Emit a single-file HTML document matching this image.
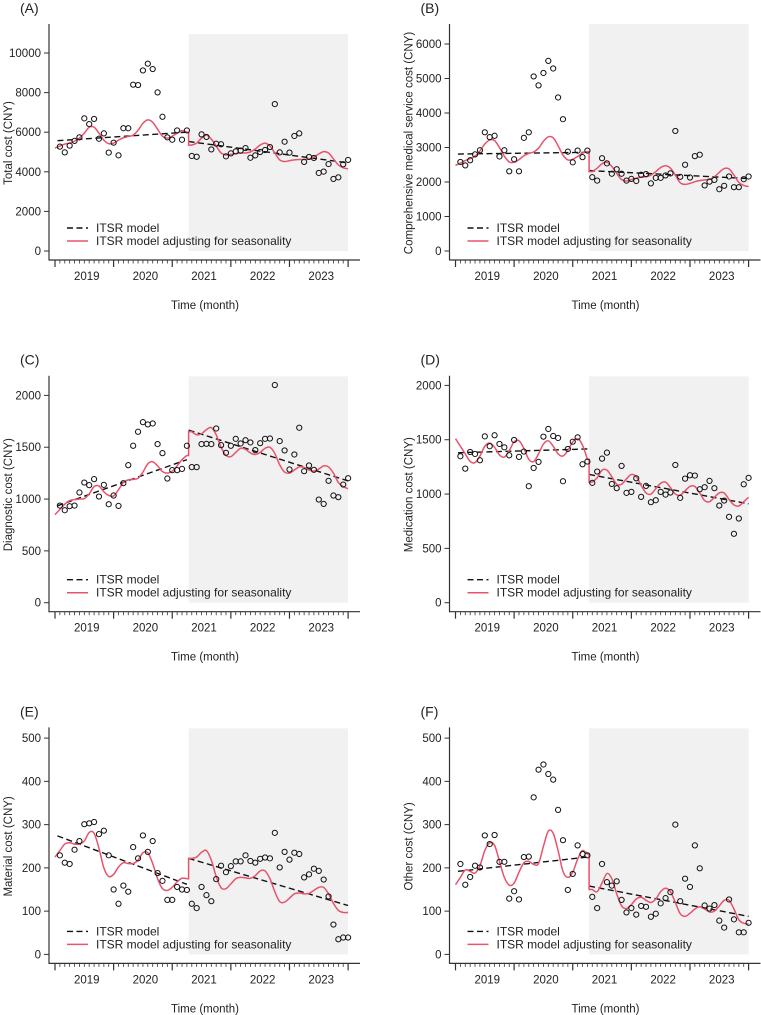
<!DOCTYPE html>
<html><head><meta charset="utf-8"><style>
html,body{margin:0;padding:0;background:#fff;}
svg{display:block;font-family:"Liberation Sans",Arial,sans-serif;}
</style></head><body>
<svg id="chart" width="761" height="1015" viewBox="0 0 761 1015" xmlns="http://www.w3.org/2000/svg"></svg>
<script>
const panelLabels = ["(A)","(B)","(C)","(D)","(E)","(F)"];
const yTitles = ["Total cost (CNY)","Comprehensive medical service cost (CNY)","Diagnostic cost (CNY)","Medication cost (CNY)","Material cost (CNY)","Other cost (CNY)"];
const yTicksA = [0,2000,4000,6000,8000,10000];
const yTicksB = [0,1000,2000,3000,4000,5000,6000];
const yTicksC = [0,500,1000,1500,2000];
const yTicksD = [0,500,1000,1500,2000];
const yTicksE = [0,100,200,300,400,500];
const yTicksF = [0,100,200,300,400,500];
const yearLabels = ["2019","2020","2021","2022","2023"];
const interventionMonth = 27.35;

const obsA = [5270,4980,5320,5560,5740,6700,6410,6670,5670,5940,4970,5470,4830,6200,6200,8400,8380,9120,9460,9190,8010,6780,5740,5620,6090,5620,6090,4800,4760,5890,5760,5130,5420,5390,4780,4930,5030,5070,5200,4710,4830,5000,5100,5250,7420,4980,5520,4970,5810,5940,4500,4750,4700,3940,4010,4390,3640,3720,4380,4600];
const seasA = [5300,5400,5450,5550,5700,5950,6250,6250,5950,5600,5420,5450,5600,5720,5780,5850,6100,6450,6620,6500,6150,5800,5700,5800,5950,6080,6000,5350,5450,5700,5850,5650,5300,4950,4850,4880,4920,4950,4950,5000,5150,5350,5450,5300,4950,4600,4520,4560,4600,4620,4620,4650,4750,4900,5020,4950,4650,4350,4200,4150];
const trendA = [5570,6000,5530,4450];

const obsB = [2580,2480,2630,2800,2920,3440,3300,3340,2740,2920,2310,2660,2310,3280,3440,5060,4800,5160,5510,5290,4450,3820,2880,2570,2910,2720,2910,2140,2040,2690,2540,2240,2370,2240,2040,2090,2030,2210,2230,1960,2120,2120,2190,2250,3480,2150,2500,2130,2750,2790,1900,2010,2060,1790,1890,2160,1850,1850,2080,2160];
const seasB = [2550,2620,2680,2750,2900,3100,3220,3200,3000,2750,2580,2570,2650,2760,2830,2870,2980,3180,3310,3280,3050,2780,2640,2660,2740,2840,2880,2300,2400,2530,2570,2450,2250,2070,2030,2070,2110,2140,2150,2200,2300,2420,2470,2400,2200,1980,1930,1960,2010,2040,2060,2080,2150,2280,2390,2380,2200,1990,1900,1870];
const trendB = [2810,2860,2330,2100];

const obsC = [937,892,931,937,1063,1159,1134,1192,1024,1137,950,1034,934,1153,1327,1514,1649,1742,1720,1729,1530,1443,1198,1279,1279,1291,1514,1308,1308,1530,1533,1530,1681,1520,1446,1514,1581,1536,1568,1546,1472,1539,1581,1584,2100,1559,1469,1285,1430,1688,1269,1324,1282,995,953,1176,1034,1018,1140,1201];
const seasC = [900,950,985,995,1000,1005,1050,1120,1125,1070,1035,1030,1090,1160,1185,1190,1200,1260,1340,1360,1320,1265,1250,1270,1320,1380,1420,1650,1620,1630,1670,1690,1620,1500,1420,1410,1450,1490,1480,1445,1430,1450,1490,1500,1440,1330,1260,1250,1280,1310,1305,1280,1270,1290,1320,1310,1250,1160,1120,1100];
const trendC = [935,1380,1665,1175];

const obsD = [1348,1234,1387,1369,1311,1531,1440,1541,1461,1430,1357,1498,1342,1391,1072,1240,1296,1528,1599,1534,1516,1118,1415,1482,1522,1274,1299,1103,1207,1326,1381,1093,1054,1259,1011,1020,1145,974,1075,925,943,1020,995,1014,1268,965,1142,1173,1170,1044,1063,1121,1054,894,940,790,634,775,1090,1149];
const seasD = [1440,1370,1300,1290,1350,1440,1470,1430,1360,1340,1400,1480,1490,1420,1320,1300,1370,1460,1490,1440,1370,1350,1400,1480,1510,1450,1320,1110,1150,1220,1220,1160,1090,1090,1140,1180,1160,1080,1010,1000,1050,1100,1110,1060,1000,990,1030,1070,1070,1010,940,930,970,1010,1010,950,900,890,930,970];
const trendD = [1380,1415,1180,910];

const obsE = [229,212,209,242,262,301,303,306,278,286,229,150,117,159,145,248,222,275,237,262,188,170,126,126,156,150,149,117,107,156,137,123,174,205,190,204,215,215,229,216,212,221,224,222,281,201,237,219,235,232,178,185,198,193,173,134,69,35,39,39];
const seasE = [240,255,258,255,255,262,282,280,245,200,180,185,202,212,210,210,218,235,235,210,175,152,148,155,168,176,175,222,225,236,240,218,180,154,152,163,175,178,177,176,182,193,193,175,145,122,121,130,140,142,140,141,148,155,155,140,118,102,97,97];
const trendE = [274,162,222,113];

const obsF = [209,161,179,205,201,275,255,276,214,214,129,146,127,225,226,363,427,439,417,404,334,264,149,186,252,232,229,133,107,209,167,159,169,126,97,107,92,112,110,87,94,118,130,144,300,123,175,156,252,199,113,106,114,78,62,127,81,51,51,73];
const seasF = [178,195,192,188,205,240,258,252,215,178,160,165,190,212,215,208,210,250,285,280,240,192,178,190,220,240,232,150,145,165,187,175,140,112,106,115,128,132,125,120,128,145,153,145,120,94,88,95,105,110,105,98,100,112,125,125,105,80,72,70];
const trendF = [192,225,158,88];

const panels = [
  {obs:obsA,seas:seasA,trend:trendA,ticks:yTicksA,top:10000,topY:53,shadeTop:34,col:0,row:0,key:"a"},
  {obs:obsB,seas:seasB,trend:trendB,ticks:yTicksB,top:6000,topY:44,shadeTop:24,col:1,row:0,key:"b"},
  {obs:obsC,seas:seasC,trend:trendC,ticks:yTicksC,top:2000,topY:43.7,shadeTop:24.7,col:0,row:1,key:"c"},
  {obs:obsD,seas:seasD,trend:trendD,ticks:yTicksD,top:2000,topY:33.7,shadeTop:24.7,col:1,row:1,key:"d"},
  {obs:obsE,seas:seasE,trend:trendE,ticks:yTicksE,top:500,topY:34.7,shadeTop:25,col:0,row:2,key:"e"},
  {obs:obsF,seas:seasF,trend:trendF,ticks:yTicksF,top:500,topY:34.7,shadeTop:25,col:1,row:2,key:"f"}
];

const NS="http://www.w3.org/2000/svg";
const svg=document.getElementById('chart');
function mk(tag,attrs,parent){const e=document.createElementNS(NS,tag);for(const k in attrs)e.setAttribute(k,attrs[k]);(parent||svg).appendChild(e);return e;}
function spline(pts){let d="M"+pts[0][0].toFixed(2)+","+pts[0][1].toFixed(2);for(let i=0;i<pts.length-1;i++){const p0=pts[Math.max(0,i-1)],p1=pts[i],p2=pts[i+1],p3=pts[Math.min(pts.length-1,i+2)];const c1x=p1[0]+(p2[0]-p0[0])/6,c1y=p1[1]+(p2[1]-p0[1])/6,c2x=p2[0]-(p3[0]-p1[0])/6,c2y=p2[1]-(p3[1]-p1[1])/6;d+=" C"+c1x.toFixed(2)+","+c1y.toFixed(2)+" "+c2x.toFixed(2)+","+c2y.toFixed(2)+" "+p2[0].toFixed(2)+","+p2[1].toFixed(2);}return d;}

panels.forEach((p,pi)=>{
  const ox=p.col*400.5, oy=p.row*351.7;
  const g=mk('g',{});
  
  
  const X=i=>ox+55+i*4.885;
  const Y=v=>oy+251-v*(251-p.topY)/p.top;
  const sh=mk('rect',{x:X(interventionMonth),y:oy+p.shadeTop,width:X(60)-X(interventionMonth),height:oy+251-(oy+p.shadeTop),fill:'#f1f1f1'},g);
  
  
  // axes
  const ya=mk('line',{x1:ox+49,y1:oy+24,x2:ox+49,y2:oy+260.5,stroke:'#333','stroke-width':1.2},g);
  
  
  const xa=mk('line',{x1:ox+49,y1:oy+260,x2:ox+360,y2:oy+260,stroke:'#333','stroke-width':1.2},g);
  
  
  p.ticks.forEach(t=>{
    mk('line',{x1:ox+44,y1:Y(t),x2:ox+49,y2:Y(t),stroke:'#333','stroke-width':1},g);
    const tl=mk('text',{x:ox+41,y:Y(t)+4,'text-anchor':'end','font-size':11.5,fill:'#222'},g);
    tl.textContent=t;
    
    
  });
  for(let m=0;m<=60;m++){
    const major=m%12===0;
    mk('line',{x1:X(m),y1:oy+260,x2:X(m),y2:oy+(major?267:263.5),stroke:'#333','stroke-width':major?1.2:0.8},g);
  }
  yearLabels.forEach((yl,k)=>{
    const t=mk('text',{x:X(k*12+6.5),y:oy+280,'text-anchor':'middle','font-size':11.5,fill:'#222'},g);
    t.textContent=yl;
    
    
  });
  const xt=mk('text',{x:ox+205,y:oy+309,'text-anchor':'middle','font-size':11.5,fill:'#222'},g);
  xt.textContent='Time (month)';
  
  
  const yt=mk('text',{x:0,y:0,'text-anchor':'middle','font-size':11.5,fill:'#222',transform:'translate('+(ox+12)+','+(oy+143)+') rotate(-90)'},g);
  yt.textContent=yTitles[pi];
  
  
  const pl=mk('text',{x:ox+20,y:oy+13,'font-size':14,fill:'#222'},g);
  pl.textContent=panelLabels[pi];
  
  
  // trend dashed
  const tr=p.trend;
  const d1=mk('line',{x1:X(0.5),y1:Y(tr[0]),x2:X(27),y2:Y(tr[1]),stroke:'#111','stroke-width':1.4,'stroke-dasharray':'6,3.5'},g);
  
  
  const d2=mk('line',{x1:X(interventionMonth),y1:Y(tr[2]),x2:X(60),y2:Y(tr[3]),stroke:'#111','stroke-width':1.4,'stroke-dasharray':'6,3.5'},g);
  
  
  // seasonal red
  const pre=[],post=[];
  p.seas.forEach((v,i)=>{const m=i+1;(m<=27?pre:post).push([X(m),Y(v)]);});
  pre.unshift([X(0),Y(2*p.seas[0]-p.seas[1])]);
  let dstr=spline(pre)+" L"+X(interventionMonth).toFixed(2)+","+pre[pre.length-1][1].toFixed(2)+" L"+X(interventionMonth).toFixed(2)+","+post[0][1].toFixed(2)+" "+spline(post).replace('M','L');
  const rl=mk('path',{d:dstr,fill:'none',stroke:'#e8536c','stroke-width':1.5},g);
  
  
  // points
  p.obs.forEach((v,i)=>{
    const c=mk('circle',{cx:X(i+1),cy:Y(v),r:2.6,fill:'none',stroke:'#111','stroke-width':1},g);
    
    
  });
  // legend
  const lg=mk('g',{},g);
  
  
  mk('line',{x1:ox+67,y1:oy+228,x2:ox+88,y2:oy+228,stroke:'#111','stroke-width':1.4,'stroke-dasharray':'6,3.5'},lg);
  const l1=mk('text',{x:ox+96,y:oy+232,'font-size':12,fill:'#222'},lg);
  l1.textContent='ITSR model';
  
  
  mk('line',{x1:ox+67,y1:oy+241,x2:ox+88,y2:oy+241,stroke:'#e8536c','stroke-width':1.5},lg);
  const l2=mk('text',{x:ox+96,y:oy+245,'font-size':12,fill:'#222'},lg);
  l2.textContent='ITSR model adjusting for seasonality';
  
  
});
</script>
</body></html>
